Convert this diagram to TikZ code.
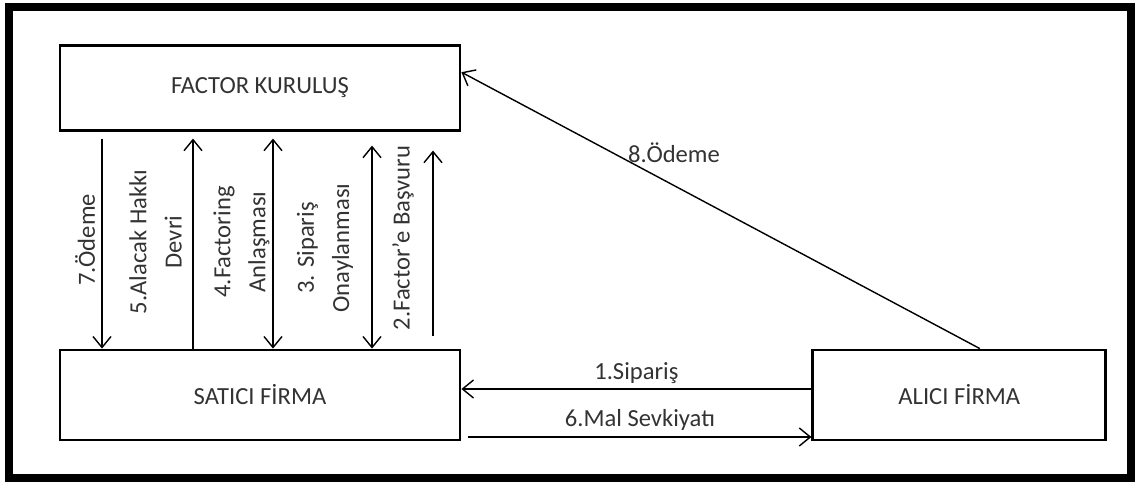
\documentclass[tikz,border=0pt]{standalone}
\usepackage{fontspec}
\setmainfont{Carlito}
\usetikzlibrary{positioning, arrows.meta}

\tikzset{
  firm/.style={draw, line width=1.6pt, minimum width=8cm, minimum height=1.8cm,
    font=\fontsize{14}{20}\selectfont, text=black!80},
  lbl/.style={font=\fontsize{14}{20}\selectfont, text=black!80, align=center, inner sep=0pt},
  flow/.style={line width=0.8pt, -{Straight Barb[length=2.2mm,width=3.6mm]}},
  flowtwo/.style={line width=0.8pt, {Straight Barb[length=2.2mm,width=3.6mm]}-{Straight Barb[length=2.2mm,width=3.6mm]}},
}

\begin{document}
\begin{tikzpicture}
\useasboundingbox (0,0) rectangle (22.72,9.64);
\draw[line width=4.5pt] (0.18,0.08) rectangle (22.62,9.5);

\node[firm] (satici) at (5.2,1.74) {SATICI FİRMA};
\node[firm, minimum height=1.7cm, above=4.34cm of satici] (factor) {FACTOR KURULUŞ};
\node[firm, minimum width=5.86cm, right=7cm of satici] (alici) {ALICI FİRMA};

% arrows between factor and satici
\draw[flow] ([xshift=-3.16cm, yshift=-1.4mm]factor.south) -- ([xshift=-3.16cm]satici.north);
\draw[flow] ([xshift=-1.34cm]satici.north) -- ([xshift=-1.34cm, yshift=-1.4mm]factor.south);
\draw[flowtwo] ([xshift=0.26cm, yshift=-1.4mm]factor.south) -- ([xshift=0.26cm]satici.north);
\draw[flowtwo] ([xshift=2.24cm, yshift=-2.8mm]factor.south) -- ([xshift=2.24cm]satici.north);
\draw[flow] ([xshift=3.46cm, yshift=2.6mm]satici.north) -- ([xshift=3.46cm, yshift=-3.8mm]factor.south);

\node[lbl, rotate=90] (l7) at (1.7,4.84) {7.Ödeme};
\node[lbl, rotate=90] (l5) at (3.11,4.8) {5.Alacak Hakkı\\Devri};
\node[lbl, rotate=90] (l4) at (4.83,4.8) {4.Factoring\\Anlaşması};
\node[lbl, rotate=90] (l3) at (6.5,4.68) {3. Sipariş\\Onaylanması};
\node[lbl, rotate=90] (l2) at (8.06,4.88) {2.Factor'e Başvuru};

% arrows to and from alici
\draw[flow] ([yshift=1.2mm]alici.west) -- ([yshift=1.2mm]satici.east)
  node[lbl, midway, yshift=3.2mm] (l1) {1.Sipariş};
\draw[flow] ([xshift=1.4mm, yshift=-8.4mm]satici.east) -- ([yshift=-8.4mm]alici.west)
  node[lbl, midway, yshift=3.4mm] (l6) {6.Mal Sevkiyatı};
\draw[flow] ([xshift=4.1mm]alici.north) -- ([yshift=3.1mm]factor.east)
  node[lbl, pos=0.59, yshift=6.5mm] (l8) {8.Ödeme};
\end{tikzpicture}
\end{document}
